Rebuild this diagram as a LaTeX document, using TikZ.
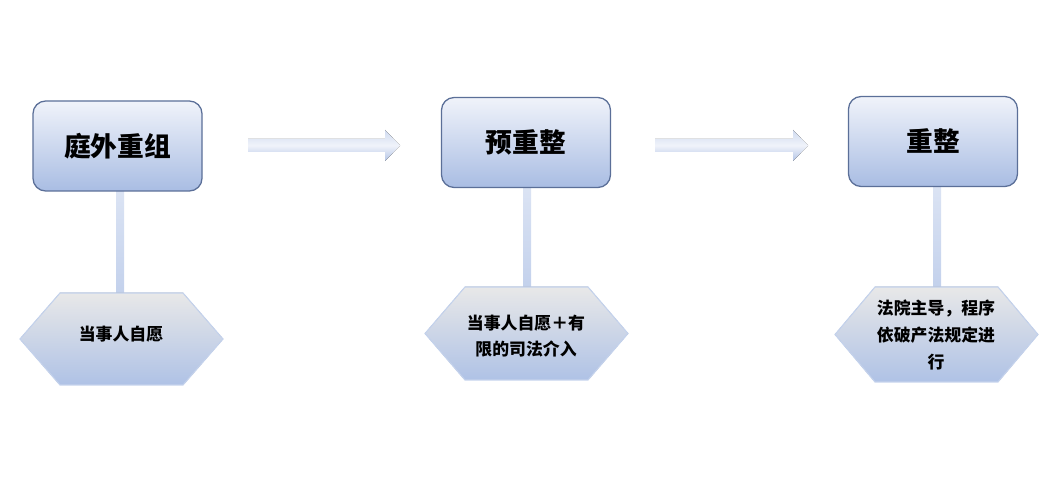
\documentclass[tikz,border=0pt]{standalone}
\usepackage{fontspec}
\setmainfont{Noto Sans CJK SC}
\usetikzlibrary{calc}
\definecolor{boxtop}{HTML}{F0F3FA}
\definecolor{boxbot}{HTML}{A9BDE3}
\definecolor{boxline}{HTML}{5B6F98}
\definecolor{hextop}{HTML}{E8E8E8}
\definecolor{hexbot}{HTML}{AFC2E6}
\definecolor{hexline}{HTML}{C4D2EC}
\definecolor{lnk}{HTML}{C3D1EC}
\tikzset{%
    stage/.style={rectangle, rounded corners=9pt, draw=boxline, line width=0.9pt,
        top color=boxtop, bottom color=boxbot, minimum width=169\pxu, minimum height=90\pxu,
        font=\fontsize{19}{22}\selectfont\bfseries},
    hexlab/.style={align=center, font=\fontsize{12}{19}\selectfont\bfseries},
    hexfill/.style={draw=hexline, line width=0.8pt, top color=hextop, bottom color=hexbot},
    stem/.style={fill=lnk, draw=none, left color=lnk!60, right color=lnk, shading angle=0},
    band/.style={draw=none, top color=boxbot!55, bottom color=boxbot!90, middle color=boxtop}
}
\newlength{\pxu}\setlength{\pxu}{0.025cm}
\begin{document}
\begin{tikzpicture}[x=0.025cm,y=-0.025cm]
    \useasboundingbox (0,0) rectangle (1041,491);
    % stems
    \fill[stem] (116,191) rectangle (124,293);
    \fill[stem] (523,187) rectangle (531,287);
    \fill[stem] (933,186) rectangle (941,287);
    % stages
    \node[stage] (s1) at (117.5,146) {庭外重组};
    \node[stage] (s2) at (526,142.5) {预重整};
    \node[stage] (s3) at (933,141.5) {重整};
    % arrows
    \foreach \a/\b in {248/400, 655/808}
        \fill[band] (\a,139) -- (\b-15,139) -- (\b-15,130) -- (\b,145.5) -- (\b-15,161) -- (\b-15,152) -- (\a,152) -- cycle;
    % hexagons
    \foreach \n/\xl/\yt/\yb in {1/20/293/385, 2/425/287/380, 3/835/287/382}
        \filldraw[hexfill] (\xl,{(\yt+\yb)/2}) -- (\xl+40,\yt) -- (\xl+163,\yt) -- (\xl+203,{(\yt+\yb)/2})
            -- (\xl+163,\yb) -- (\xl+40,\yb) -- cycle;
    \node[hexlab] (h1) at (121,334) {当事人自愿};
    \node[hexlab] (h2) at (526,336) {当事人自愿＋有\\限的司法介入};
    \node[hexlab] (h3) at (936,335) {法院主导，程序\\依破产法规定进\\行};
\end{tikzpicture}
\end{document}
